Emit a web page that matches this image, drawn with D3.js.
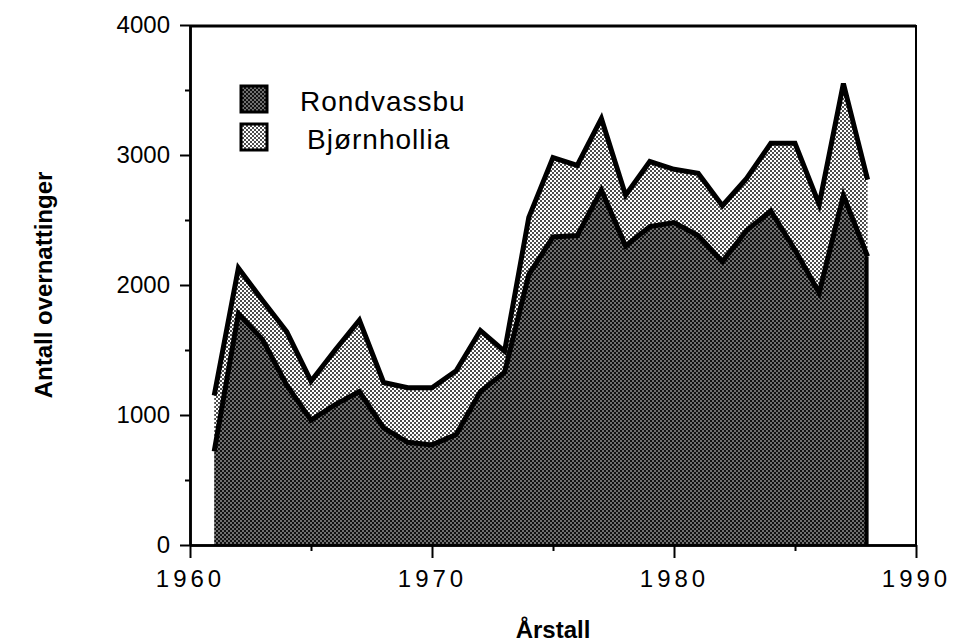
<!DOCTYPE html>
<html>
<head>
<meta charset="utf-8">
<title>Antall overnattinger</title>
<script src="https://cdnjs.cloudflare.com/ajax/libs/d3/7.8.5/d3.min.js"></script>
<style>
    body { margin: 0; background: #fff; }
    svg { display: block; font-family: "Liberation Sans", Arial, sans-serif; }
</style>
</head>
<body>
<svg id="chart" width="956" height="643"></svg>
<script>
// data
const years = [1961, 1962, 1963, 1964, 1965, 1966, 1967, 1968, 1969, 1970,
    1971, 1972, 1973, 1974, 1975, 1976, 1977, 1978, 1979, 1980,
    1981, 1982, 1983, 1984, 1985, 1986, 1987, 1988];
const rondvassbu = [720, 1780, 1580, 1230, 960, 1080, 1180, 900, 790, 770,
    850, 1180, 1330, 2080, 2370, 2380, 2730, 2300, 2450, 2480,
    2380, 2180, 2420, 2570, 2270, 1940, 2690, 2220];
const bjornhollia = [430, 350, 300, 410, 300, 420, 550, 350, 420, 440,
    490, 470, 160, 440, 610, 540, 550, 390, 500, 410,
    480, 430, 400, 520, 820, 680, 860, 590];
const seriesNames = ["Rondvassbu", "Bjørnhollia"];
const xTicks = [1960, 1970, 1980, 1990];
const yTicks = [0, 1000, 2000, 3000, 4000];

const svg = d3.select("#chart");
const plotLeft = 190, plotRight = 916, plotTop = 25, plotBottom = 545;

const x = d3.scaleLinear().domain([1960, 1990]).range([plotLeft, plotRight]);
const y = d3.scaleLinear().domain([0, 4000]).range([plotBottom, plotTop]);

// halftone look
const defs = svg.append("defs");
function dots(id, bg, dot, r) {
    const p = defs.append("pattern")
        .attr("id", id)
        .attr("patternUnits", "userSpaceOnUse")
        .attr("width", 4).attr("height", 4);
    p.append("rect").attr("width", 4).attr("height", 4).attr("fill", bg);
    p.append("circle").attr("cx", 1).attr("cy", 1).attr("r", r).attr("fill", dot);
    p.append("circle").attr("cx", 3).attr("cy", 3).attr("r", r).attr("fill", dot);
}
dots("darkDots", "#111111", "#ffffff", 0.75);
dots("lightDots", "#ffffff", "#111111", 1.0);

const table = years.map((yr, i) => ({ year: yr, Rondvassbu: rondvassbu[i], "Bjørnhollia": bjornhollia[i] }));
const stacked = d3.stack().keys(seriesNames)(table);
const fills = ["url(#darkDots)", "url(#lightDots)"];

const area = d3.area()
    .x(d => x(d.data.year))
    .y0(d => y(d[0]))
    .y1(d => y(d[1]));

const topLine = d3.line()
    .x(d => x(d.data.year))
    .y(d => y(d[1]));

svg.selectAll(".layer")
    .data(stacked)
    .enter()
    .append("path")
    .attr("class", "layer")
    .attr("d", area)
    .attr("fill", (d, i) => fills[i]);

svg.selectAll(".edge")
    .data(stacked)
    .enter()
    .append("path")
    .attr("class", "edge")
    .attr("d", topLine)
    .attr("fill", "none")
    .attr("stroke", "#000")
    .attr("stroke-width", 5)
    .attr("stroke-linejoin", "miter");

// right hand edge of the last year
const last = years.length - 1;
svg.append("line")
    .attr("x1", x(years[last]) - 1).attr("x2", x(years[last]) - 1)
    .attr("y1", y(0)).attr("y2", y(rondvassbu[last]))
    .attr("stroke", "#000").attr("stroke-width", 4);

// frame
svg.append("line")
    .attr("x1", plotLeft).attr("x2", plotRight).attr("y1", plotTop + 1).attr("y2", plotTop + 1)
    .attr("stroke", "#000").attr("stroke-width", 3);
svg.append("line")
    .attr("x1", plotRight).attr("x2", plotRight).attr("y1", plotTop).attr("y2", plotBottom)
    .attr("stroke", "#000").attr("stroke-width", 2);

// axes
const yAxis = svg.append("g")
    .attr("transform", `translate(${plotLeft},0)`)
    .call(d3.axisLeft(y).tickValues(yTicks).tickSize(10).tickSizeOuter(0).tickPadding(10).tickFormat(d3.format("d")));
svg.append("g")
    .attr("transform", `translate(${plotLeft},0)`)
    .call(d3.axisLeft(y).tickValues(d3.range(500, 4000, 1000)).tickSize(5).tickSizeOuter(0).tickFormat(""));

const xAxis = svg.append("g")
    .attr("transform", `translate(0,${plotBottom})`)
    .call(d3.axisBottom(x).tickValues(xTicks).tickSize(13).tickSizeOuter(0).tickPadding(12).tickFormat(d3.format("d")));
svg.append("g")
    .attr("transform", `translate(0,${plotBottom})`)
    .call(d3.axisBottom(x).tickValues([1965, 1975, 1985]).tickSize(6).tickSizeOuter(0).tickFormat(""));

svg.selectAll(".domain").attr("stroke", "#000").attr("stroke-width", 2.5);
svg.selectAll(".tick line").attr("stroke", "#000").attr("stroke-width", 2);
yAxis.selectAll("text").attr("font-size", 24).attr("fill", "#000");
xAxis.selectAll("text").attr("font-size", 24).attr("fill", "#000").attr("letter-spacing", 4);

// axis titles
svg.append("text")
    .attr("transform", "translate(52,285) rotate(-90)")
    .attr("text-anchor", "middle")
    .attr("font-size", 24)
    .attr("font-weight", "bold")
    .text("Antall overnattinger");

svg.append("text")
    .attr("x", (plotLeft + plotRight) / 2)
    .attr("y", 638)
    .attr("text-anchor", "middle")
    .attr("font-size", 24)
    .attr("font-weight", "bold")
    .text("Årstall");

// legend
const legend = svg.append("g").attr("transform", "translate(240,85)");
seriesNames.forEach((name, i) => {
    const row = legend.append("g").attr("transform", `translate(0,${i * 38})`);
    row.append("rect")
        .attr("x", 1).attr("y", 1)
        .attr("width", 26).attr("height", 26)
        .attr("fill", fills[i])
        .attr("stroke", "#000").attr("stroke-width", 3);
    row.append("text")
        .attr("x", i === 0 ? 60 : 67)
        .attr("y", 26)
        .attr("font-size", 28)
        .attr("letter-spacing", 1)
        .text(name);
});
</script>
</body>
</html>
